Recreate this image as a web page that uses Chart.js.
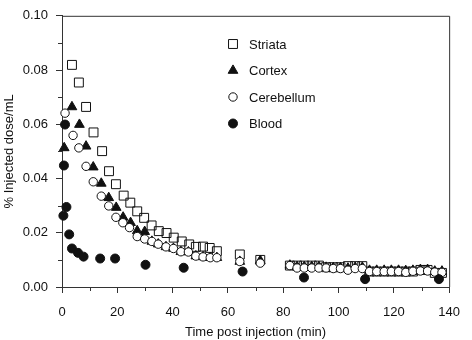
<!DOCTYPE html>
<html>
<head>
<meta charset="utf-8">
<script src="https://cdn.jsdelivr.net/npm/chart.js@4.4.1/dist/chart.umd.min.js"></script>
<style>
  html, body { margin: 0; padding: 0; background: #fff; }
  #wrap { width: 472px; height: 340px; }
</style>
</head>
<body>
<div id="wrap"><canvas id="chart" width="472" height="340"></canvas></div>
<script>
// tick labels
const xTickLabels = [0, 20, 40, 60, 80, 100, 120, 140];
const yTickLabels = ["0.00", "0.02", "0.04", "0.06", "0.08", "0.10"];

// late frames shared by the three tissue curves
const bandTime = [82.4, 85.0, 87.6, 90.3, 92.9, 95.5, 98.1, 100.7, 103.4, 106.0, 108.6,
    111.2, 113.8, 116.5, 119.1, 121.7, 124.3, 126.9, 129.6, 132.2, 134.8, 137.4];

const striataTime = [3.6, 6.1, 8.7, 11.4, 14.5, 17.0, 19.5, 22.3, 24.7, 27.2, 29.7, 32.4, 35.0,
    37.8, 40.4, 43.3, 46.0, 48.4, 51.0, 53.4, 56.0, 64.3, 71.7].concat(bandTime);
const striataDose = [0.0819, 0.0754, 0.0664, 0.0570, 0.0501, 0.0427, 0.0379, 0.0337, 0.0311, 0.0279,
    0.0255, 0.0227, 0.0206, 0.0199, 0.0182, 0.0168, 0.0157, 0.0148, 0.0149, 0.0144, 0.0132, 0.0120, 0.0100,
    0.0079, 0.0079, 0.0079, 0.0079, 0.0079, 0.0073, 0.0073, 0.0073, 0.0077, 0.0077, 0.0077,
    0.0057, 0.0057, 0.0057, 0.0057, 0.0057, 0.0057, 0.0057, 0.0063, 0.0063, 0.0052, 0.0052];

const cortexTime = [0.8, 3.6, 6.3, 8.7, 11.3, 14.2, 16.9, 19.6, 22.1, 24.8, 27.2, 29.9, 32.5, 34.8,
    37.6, 40.3, 43.0, 45.7, 48.4, 51.0, 53.6, 56.0, 64.3, 71.7].concat(bandTime);
const cortexDose = [0.0513, 0.0664, 0.0599, 0.0519, 0.0442, 0.0382, 0.0329, 0.0293, 0.0257, 0.0237,
    0.0207, 0.0204, 0.0168, 0.0158, 0.0148, 0.0142, 0.0130, 0.0129, 0.0114, 0.0111, 0.0108, 0.0108, 0.0094, 0.0097,
    0.0080, 0.0075, 0.0075, 0.0075, 0.0075, 0.0072, 0.0071, 0.0071, 0.0069, 0.0072, 0.0072,
    0.0061, 0.0061, 0.0061, 0.0061, 0.0061, 0.0060, 0.0061, 0.0064, 0.0064, 0.0058, 0.0058];

const cerebellumTime = [1.1, 4.0, 6.1, 8.7, 11.3, 14.2, 16.9, 19.5, 22.0, 24.4, 27.2, 29.9, 32.5, 34.8,
    37.6, 40.3, 43.0, 45.7, 48.4, 51.0, 53.6, 56.0, 64.3, 71.7].concat(bandTime);
const cerebellumDose = [0.0641, 0.0559, 0.0513, 0.0445, 0.0388, 0.0335, 0.0299, 0.0257, 0.0237, 0.0219,
    0.0186, 0.0177, 0.0168, 0.0158, 0.0148, 0.0142, 0.0130, 0.0129, 0.0114, 0.0111, 0.0108, 0.0108, 0.0094, 0.0088,
    0.0079, 0.0070, 0.0070, 0.0070, 0.0070, 0.0070, 0.0068, 0.0068, 0.0062, 0.0068, 0.0068,
    0.0057, 0.0057, 0.0057, 0.0057, 0.0057, 0.0054, 0.0058, 0.0059, 0.0059, 0.0055, 0.0054];

const bloodTime = [0.5, 0.7, 1.1, 1.6, 2.6, 3.6, 5.8, 7.8, 13.8, 19.2, 30.2, 44.0, 65.3, 87.5, 109.6, 136.3];
const bloodDose = [0.0263, 0.0448, 0.0599, 0.0295, 0.0194, 0.0142, 0.0126, 0.0112, 0.0105, 0.0105,
    0.0082, 0.0071, 0.0057, 0.0035, 0.0029, 0.0029];

const toPoints = (xs, ys) => xs.map((x, i) => ({ x, y: ys[i] }));

const INK = "#111";
const AXIS = "#333";
const FONT = "'Liberation Sans', Arial, Helvetica, sans-serif";

document.addEventListener("DOMContentLoaded", () => {
    const ctx = document.getElementById("chart").getContext("2d");

    // minor ticks, top/right frame and the legend
    const framePlugin = {
        id: "frame",
        afterDraw(chart) {
            const { ctx, chartArea: a, scales } = chart;
            ctx.save();
            ctx.strokeStyle = AXIS;
            ctx.lineWidth = 1;
            ctx.beginPath();
            ctx.moveTo(a.left, a.top + 0.5);
            ctx.lineTo(a.right + 0.5, a.top + 0.5);
            ctx.lineTo(a.right + 0.5, a.bottom);
            for (let v = 10; v < 140; v += 20) {
                const px = Math.round(scales.x.getPixelForValue(v)) + 0.5;
                ctx.moveTo(px, a.bottom);
                ctx.lineTo(px, a.bottom + 4);
            }
            for (let v = 0.01; v < 0.1; v += 0.02) {
                const py = Math.round(scales.y.getPixelForValue(v)) + 0.5;
                ctx.moveTo(a.left, py);
                ctx.lineTo(a.left - 4, py);
            }
            ctx.stroke();

            // legend
            const lx = 233, ly = 44, gap = 26.5;
            chart.data.datasets.forEach((ds, i) => {
                const y = ly + i * gap;
                ctx.beginPath();
                ctx.fillStyle = ds.pointBackgroundColor;
                ctx.strokeStyle = ds.pointBorderColor;
                ctx.lineWidth = 1;
                if (ds.pointStyle === "rect") {
                    const s = ds.pointRadius * Math.SQRT1_2;
                    ctx.rect(lx - s, y - s, 2 * s, 2 * s);
                } else if (ds.pointStyle === "triangle") {
                    const r = ds.pointRadius;
                    ctx.moveTo(lx, y - r);
                    ctx.lineTo(lx + r * 0.866, y + r * 0.5);
                    ctx.lineTo(lx - r * 0.866, y + r * 0.5);
                    ctx.closePath();
                } else {
                    ctx.arc(lx, y, ds.pointRadius, 0, Math.PI * 2);
                }
                ctx.fill();
                ctx.stroke();
                ctx.fillStyle = INK;
                ctx.font = "13px " + FONT;
                ctx.textAlign = "left";
                ctx.textBaseline = "middle";
                ctx.fillText(ds.label, lx + 16, y + 1);
            });
            ctx.restore();
        },
    };

    new Chart(ctx, {
        type: "scatter",
        data: {
            datasets: [
                {
                    label: "Striata",
                    data: toPoints(striataTime, striataDose),
                    pointStyle: "rect",
                    pointRadius: 6.3,
                    pointBackgroundColor: "rgba(255,255,255,0)",
                    pointBorderColor: INK,
                    pointBorderWidth: 1,
                    order: 4,
                    clip: false,
                },
                {
                    label: "Cortex",
                    data: toPoints(cortexTime, cortexDose),
                    pointStyle: "triangle",
                    pointRadius: 5.6,
                    pointBackgroundColor: INK,
                    pointBorderColor: INK,
                    pointBorderWidth: 1,
                    order: 3,
                    clip: false,
                },
                {
                    label: "Cerebellum",
                    data: toPoints(cerebellumTime, cerebellumDose),
                    pointStyle: "circle",
                    pointRadius: 4.2,
                    pointBackgroundColor: "#fff",
                    pointBorderColor: INK,
                    pointBorderWidth: 1,
                    order: 2,
                    clip: false,
                },
                {
                    label: "Blood",
                    data: toPoints(bloodTime, bloodDose),
                    pointStyle: "circle",
                    pointRadius: 4.5,
                    pointBackgroundColor: INK,
                    pointBorderColor: INK,
                    pointBorderWidth: 1,
                    order: 1,
                    clip: false,
                },
            ],
        },
        options: {
            responsive: false,
            animation: false,
            layout: { padding: { top: 7, right: 13, left: 0, bottom: 0 } },
            plugins: {
                legend: { display: false },
                tooltip: { enabled: false },
            },
            scales: {
                x: {
                    type: "linear",
                    min: 0,
                    max: 140,
                    afterFit: (scale) => { scale.height = 53; },
                    border: { color: AXIS, width: 1 },
                    grid: {
                        drawOnChartArea: false,
                        tickLength: 6,
                        tickColor: (c) => (c.tick && c.tick.value % 20 ? "rgba(0,0,0,0)" : AXIS),
                    },
                    ticks: {
                        stepSize: 10,
                        padding: 12,
                        maxRotation: 0,
                        autoSkip: false,
                        color: INK,
                        font: { family: FONT, size: 13 },
                        callback: (v) => (xTickLabels.includes(v) ? String(v) : ""),
                    },
                    title: {
                        display: true,
                        text: "Time post injection (min)",
                        color: INK,
                        font: { family: FONT, size: 13 },
                        padding: { top: 0, bottom: 0 },
                    },
                },
                y: {
                    type: "linear",
                    min: 0,
                    max: 0.1,
                    afterFit: (scale) => { scale.width = 62; },
                    border: { color: AXIS, width: 1 },
                    grid: {
                        drawOnChartArea: false,
                        tickLength: 6,
                        tickColor: (c) => (c.tick && Math.round(c.tick.value * 100) % 2 ? "rgba(0,0,0,0)" : AXIS),
                    },
                    ticks: {
                        stepSize: 0.01,
                        padding: 8,
                        autoSkip: false,
                        color: INK,
                        font: { family: FONT, size: 13 },
                        callback: (v) => {
                            const label = v.toFixed(2);
                            return yTickLabels.includes(label) ? label : "";
                        },
                    },
                    title: {
                        display: true,
                        text: "% Injected dose/mL",
                        color: INK,
                        font: { family: FONT, size: 13 },
                        padding: { top: 2, bottom: 0 },
                    },
                },
            },
        },
        plugins: [framePlugin],
    });
});
</script>
</body>
</html>
